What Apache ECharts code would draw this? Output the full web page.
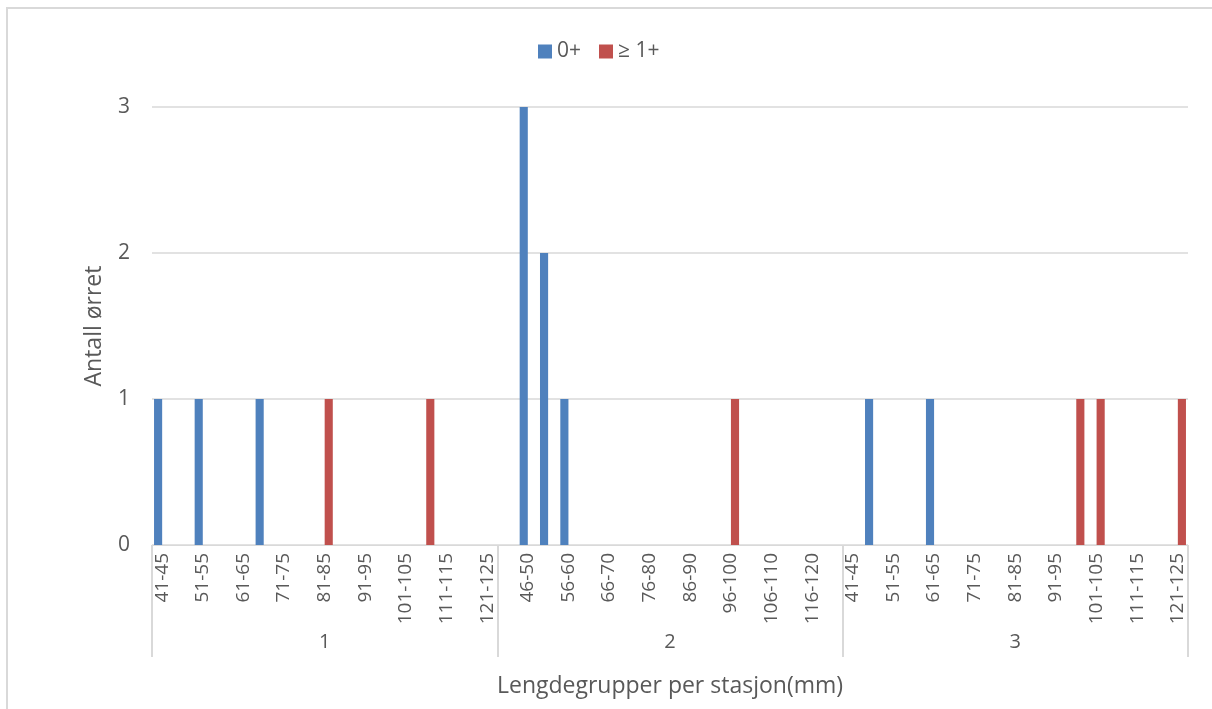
<!DOCTYPE html>
<html>
<head>
<meta charset="utf-8">
<script src="https://cdn.jsdelivr.net/npm/echarts@6/dist/echarts.min.js"></script>
<style>
html,body{margin:0;padding:0;background:#fff;}
#chart{width:1212px;height:709px;}
</style>
</head>
<body>
<div id="chart"></div>
<script>
// ---- data ----
const stations = ['1', '2', '3'];
const lengthGroups = ['41-45','46-50','51-55','56-60','61-65','66-70','71-75','76-80','81-85',
  '86-90','91-95','96-100','101-105','106-110','111-115','116-120','121-125'];
// counts per length group, per station
const st1Young = [1,0,1,0,0,1,0,0,0,0,0,0,0,0,0,0,0];
const st1Old   = [0,0,0,0,0,0,0,0,1,0,0,0,0,1,0,0,0];
const st2Young = [0,3,2,1,0,0,0,0,0,0,0,0,0,0,0,0,0];
const st2Old   = [0,0,0,0,0,0,0,0,0,0,0,1,0,0,0,0,0];
const st3Young = [0,1,0,0,1,0,0,0,0,0,0,0,0,0,0,0,0];
const st3Old   = [0,0,0,0,0,0,0,0,0,0,0,1,1,0,0,0,1];
const seriesNames = ['0+', '\u2265 1+'];
const yTicks = [0, 1, 2, 3];

// ---- build ----
const categories = [];
stations.forEach(s => lengthGroups.forEach(g => categories.push(s + '|' + g)));
const youngData = [].concat(st1Young, st2Young, st3Young).map(v => v === 0 ? null : v);
const oldData = [].concat(st1Old, st2Old, st3Old).map(v => v === 0 ? null : v);

const textColor = '#595959';
const gridColor = '#d9d9d9';
const font = 'Open Sans';

const chart = echarts.init(document.getElementById('chart'));
chart.setOption({
  backgroundColor: '#ffffff',
  animation: false,
  textStyle: { fontFamily: font },
  graphic: [{
    type: 'rect',
    shape: { x: 7, y: 8, width: 1210, height: 710 },
    style: { fill: 'none', stroke: gridColor, lineWidth: 2 },
    silent: true
  }],
  legend: {
    left: 533,
    top: 36,
    itemWidth: 14,
    itemHeight: 14,
    itemGap: 18,
    icon: 'rect',
    textStyle: { color: textColor, fontSize: 21, fontFamily: font },
    data: seriesNames
  },
  grid: { left: 152, right: 24, top: 107, bottom: 164, containLabel: false },
  xAxis: [{
    type: 'category',
    data: categories,
    position: 'bottom',
    axisLine: { show: true, lineStyle: { color: gridColor, width: 1 } },
    axisTick: { show: false },
    axisLabel: {
      interval: 1,
      rotate: 90,
      margin: 8,
      color: textColor,
      fontSize: 19,
      fontFamily: font,
      formatter: v => v.split('|')[1]
    }
  }, {
    type: 'category',
    data: stations,
    position: 'bottom',
    offset: 0,
    boundaryGap: true,
    axisLine: { show: false },
    axisTick: { show: true, interval: 0, length: 112, lineStyle: { color: gridColor, width: 2 } },
    axisLabel: { interval: 0, margin: 87, color: textColor, fontSize: 20, fontFamily: font },
    name: 'Lengdegrupper per stasjon(mm)',
    nameLocation: 'middle',
    nameGap: 130,
    nameTextStyle: { color: textColor, fontSize: 23, fontFamily: font }
  }],
  yAxis: {
    type: 'value',
    min: yTicks[0],
    max: yTicks[yTicks.length - 1],
    interval: 1,
    axisLine: { show: false },
    axisTick: { show: false },
    splitLine: { show: true, lineStyle: { color: gridColor, width: 1.5 } },
    axisLabel: { color: textColor, fontSize: 21, margin: 22, fontFamily: font },
    name: 'Antall \u00f8rret',
    nameLocation: 'middle',
    nameGap: 46,
    nameTextStyle: { color: textColor, fontSize: 23, fontFamily: font }
  },
  series: [{
    name: seriesNames[0],
    type: 'bar',
    xAxisIndex: 0,
    data: youngData,
    barGap: '0%',
    barCategoryGap: '20%',
    itemStyle: { color: '#4f81bd' }
  }, {
    name: seriesNames[1],
    type: 'bar',
    xAxisIndex: 0,
    data: oldData,
    barGap: '0%',
    barCategoryGap: '20%',
    itemStyle: { color: '#c0504d' }
  }]
});
</script>
</body>
</html>
